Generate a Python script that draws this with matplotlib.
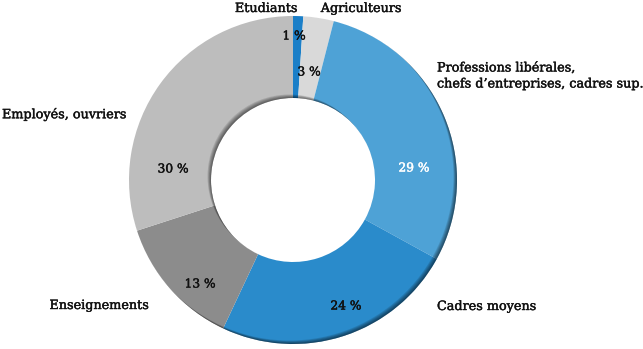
import matplotlib
matplotlib.use("Agg")
import matplotlib.pyplot as plt
import matplotlib.patheffects as pe
from matplotlib.patches import Wedge, Circle

plt.rcParams['font.family'] = ['DejaVu Serif']

categories = ['Etudiants', 'Agriculteurs',
              'Professions libérales,\nchefs d\u2019entreprises, cadres sup.',
              'Cadres moyens', 'Enseignements', 'Employés, ouvriers']
shares = [1, 3, 29, 24, 13, 30]
colors = ['#1b7fc8', '#d9d9d9', '#4ea2d6', '#2a8bcb', '#8c8c8c', '#bdbdbd']
pct_colors = ['#111111', '#111111', 'white', '#111111', '#111111', '#111111']

W, H = 643, 349
cx, cy = 293, H - 180
R, r = 164, 82

fig = plt.figure(figsize=(W / 100, H / 100), dpi=100)
ax = fig.add_axes([0, 0, 1, 1])

wedges, _ = ax.pie(shares, colors=colors, startangle=90, counterclock=False,
                   center=(cx, cy), radius=R, frame=True,
                   wedgeprops=dict(width=R - r, linewidth=0))
ax.set_xlim(0, W)
ax.set_ylim(0, H)
ax.set_aspect('equal')
ax.axis('off')

# soft shading: outer rim darker bottom-right, inner rim darker top-left
ring = Wedge((cx, cy), R, 0, 360, width=R - r, transform=ax.transData)
for s in [0.7, 1.4, 2.1, 2.8, 3.5]:
    outer = Wedge((cx - s, cy + s), R + 60, 0, 360, width=60, fc='black',
                  ec='none', alpha=0.13)
    ax.add_patch(outer)
    outer.set_clip_path(ring)
    inner = Circle((cx - s, cy + s), r, fc='black', ec='none', alpha=0.12)
    ax.add_patch(inner)
    inner.set_clip_path(ring)

# percentage labels
pct_pos = [(294, 36), (309, 72), (414, 168), (346, 306), (200, 284), (173, 169)]
for v, (x, y), col in zip(shares, pct_pos, pct_colors):
    ax.text(x, H - y, f'{v} %', ha='center', va='center', fontsize=8.8,
            color=col, path_effects=[pe.withStroke(linewidth=0.3, foreground=col)])

# category labels
lab_pos = [(266, 7, 'center'), (361, 7, 'center'), (437, 73, 'left'),
           (437, 305, 'left'), (148, 304, 'right'), (2, 113, 'left')]
for name, (x, y, ha) in zip(categories, lab_pos):
    ax.text(x, H - y, name, ha=ha, va='center_baseline', fontsize=9.2,
            color='#111111', linespacing=1.3,
            path_effects=[pe.withStroke(linewidth=0.3, foreground='#111111')])

fig.savefig('out.png', dpi=100)
